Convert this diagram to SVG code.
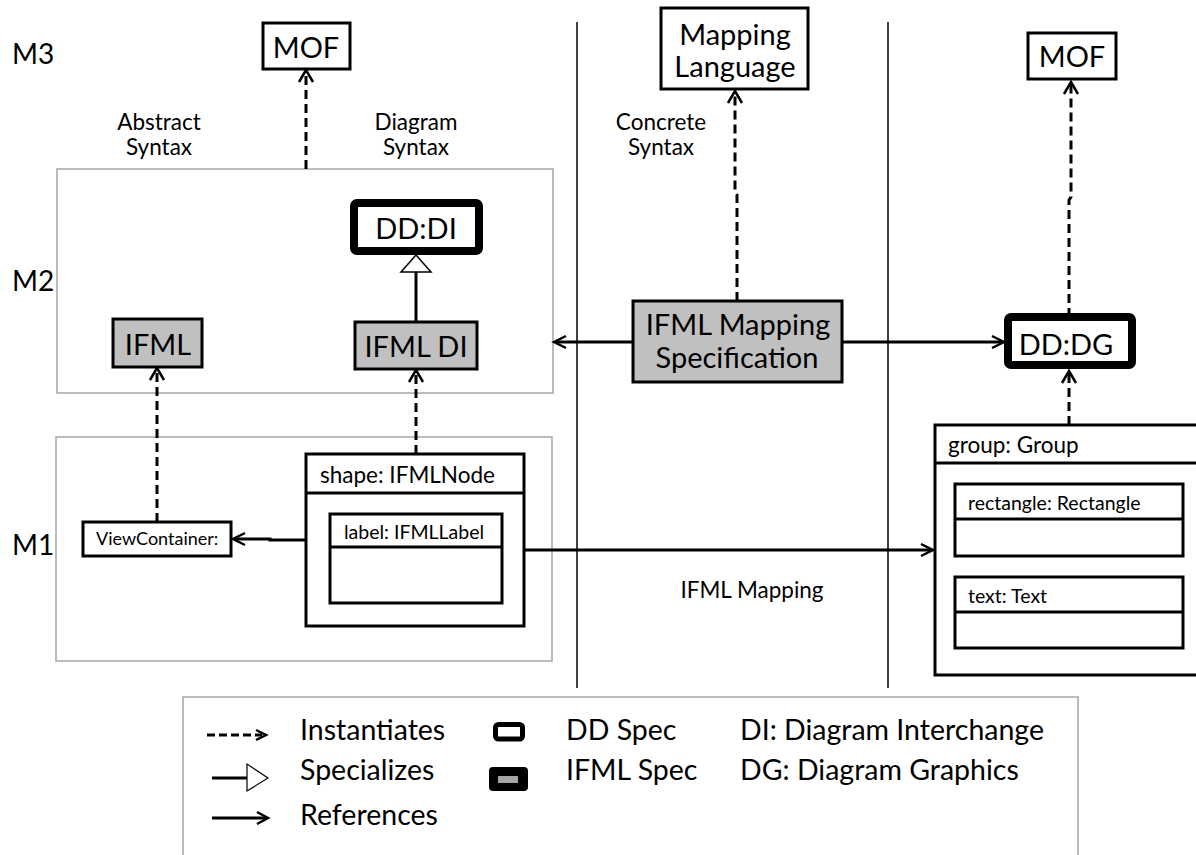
<svg xmlns="http://www.w3.org/2000/svg" width="1196" height="855" viewBox="0 0 1196 855">
<defs>
<style>
text{font-family:Lato,"Open Sans","Liberation Sans",sans-serif;fill:#000}
.lvl{font-size:28px}
.big{font-size:29px}
.syn{font-size:22.5px}
.hdr{font-size:22.5px}
.sm{font-size:19.5px}
.leg{font-size:28.5px}
.mid{text-anchor:middle}
.area{fill:#fff;stroke:#a6a6a6;stroke-width:1.5}
.box{fill:#fff;stroke:#000;stroke-width:3}
.ifml{fill:#c0c0c0;stroke:#000;stroke-width:3}
.dd{fill:#fff;stroke:#000;stroke-width:8}
.sep{stroke:#000;stroke-width:1.5;fill:none}
.dash{stroke:#000;stroke-width:3;fill:none;stroke-dasharray:9 5}
.ref{stroke:#000;stroke-width:3;fill:none}
.head{stroke:#000;stroke-width:2.5;fill:none}
</style>
</defs>
<rect width="1196" height="855" fill="#fff"/>

<g id="separators">
<line class="sep" x1="577" y1="22" x2="577" y2="688"/>
<line class="sep" x1="888" y1="22" x2="888" y2="688"/>
</g>

<g id="level-labels">
<text class="lvl" x="12" y="64">M3</text>
<text class="lvl" x="12" y="291">M2</text>
<text class="lvl" x="12" y="555">M1</text>
</g>

<g id="column-labels">
<text class="syn mid" x="159" y="130">Abstract</text>
<text class="syn mid" x="159" y="155">Syntax</text>
<text class="syn mid" x="416" y="130">Diagram</text>
<text class="syn mid" x="416" y="155">Syntax</text>
<text class="syn mid" x="661" y="130">Concrete</text>
<text class="syn mid" x="661" y="155">Syntax</text>
</g>

<g id="m2-area"><rect class="area" x="57" y="169" width="496" height="224"/></g>
<g id="m1-area"><rect class="area" x="56" y="437" width="496" height="224"/></g>

<g id="mof-left">
<rect class="box" x="263" y="23" width="87" height="46"/>
<text class="big mid" x="306" y="58">MOF</text>
</g>

<g id="mapping-language">
<rect class="box" x="661" y="8" width="147" height="81"/>
<text class="big mid" x="735" y="45">Mapping</text>
<text class="big mid" x="735" y="77">Language</text>
</g>

<g id="mof-right">
<rect class="box" x="1028" y="33" width="88" height="46"/>
<text class="big mid" x="1072" y="67">MOF</text>
</g>

<g id="dd-di">
<rect class="dd" x="354" y="203" width="125" height="48" rx="3"/>
<text class="big mid" x="416" y="239">DD:DI</text>
</g>

<g id="ifml">
<rect class="ifml" x="113" y="319" width="89" height="48"/>
<text class="big mid" x="158" y="355">IFML</text>
</g>

<g id="ifml-di">
<rect class="ifml" x="355" y="322" width="122" height="47"/>
<text class="big mid" x="416" y="357">IFML DI</text>
</g>

<g id="ifml-mapping-spec">
<rect class="ifml" x="633" y="301" width="209" height="81"/>
<text class="big mid" x="738" y="335">IFML Mapping</text>
<text class="big mid" x="737" y="368">Specification</text>
</g>

<g id="dd-dg">
<rect class="dd" x="1008" y="317" width="124" height="48" rx="3"/>
<text class="big mid" x="1066" y="355">DD:DG</text>
</g>

<g id="view-container">
<rect class="box" x="83" y="522" width="148" height="34"/>
<text style="font-size:18px" x="96" y="545">ViewContainer:</text>
</g>

<g id="shape-ifmlnode">
<rect class="box" x="306" y="454" width="218" height="172"/>
<line class="ref" x1="306" y1="493" x2="524" y2="493"/>
<text class="hdr" x="320" y="483">shape: IFMLNode</text>
</g>

<g id="label-ifmllabel">
<rect class="box" x="330" y="514" width="172" height="89"/>
<line class="ref" x1="330" y1="547" x2="502" y2="547"/>
<text class="sm" x="344" y="539">label: IFMLLabel</text>
</g>

<g id="group">
<rect class="box" x="935" y="425" width="300" height="250"/>
<line class="ref" x1="935" y1="463" x2="1200" y2="463"/>
<text class="hdr" x="948" y="453">group: Group</text>
</g>

<g id="rectangle">
<rect class="box" x="955" y="484" width="228" height="72"/>
<line class="ref" x1="955" y1="519" x2="1183" y2="519"/>
<text class="sm" x="968" y="510">rectangle: Rectangle</text>
</g>

<g id="text-node">
<rect class="box" x="955" y="577" width="228" height="71"/>
<line class="ref" x1="955" y1="612" x2="1183" y2="612"/>
<text class="sm" x="968" y="603">text: Text</text>
</g>

<g id="connectors">
<path class="dash" d="M306,169 V71"/>
<path class="head" d="M299,82 L306,70 L313,82"/>
<path class="dash" d="M737,301 V195 L735,192 V92"/>
<path class="head" d="M728,103 L735,91 L742,103"/>
<path class="dash" d="M1069,317 V200 L1071,197 V82"/>
<path class="head" d="M1064,94 L1071,82 L1078,94"/>
<path class="dash" d="M157,522 V369"/>
<path class="head" d="M150,380 L157,368 L164,380"/>
<path class="dash" d="M416,454 V371"/>
<path class="head" d="M409,382 L416,370 L423,382"/>
<path class="dash" d="M1069,425 V372"/>
<path class="head" d="M1062,383 L1069,371 L1076,383"/>
<path class="ref" d="M416,322 V272"/>
<polygon points="416,255 401,272 431,272" fill="#fff" stroke="#000" stroke-width="1.5"/>
<path class="ref" d="M633,342 H556"/>
<path class="head" d="M566,336 L554,342 L566,348"/>
<path class="ref" d="M842,342 H1003"/>
<path class="head" d="M992,336 L1004,342 L992,348"/>
<path class="ref" d="M306,540 H270 V539 H234"/>
<path class="head" d="M245,533 L233,539 L245,545"/>
<path class="ref" d="M524,550 H932"/>
<path class="head" d="M921,544 L933,550 L921,556"/>
</g>

<text class="syn mid" x="752" y="598">IFML Mapping</text>

<g id="legend">
<rect class="area" x="183" y="697" width="895" height="170"/>
<path class="dash" d="M207,735 H262" style="stroke-dasharray:8 4"/>
<path class="head" d="M256,730 L266,735 L256,740"/>
<path class="ref" d="M212,778 H247"/>
<polygon points="247,764 247,791 268,778" fill="#fff" stroke="#000" stroke-width="1.2"/>
<path class="ref" d="M212,818 H267"/>
<path class="head" d="M257,812 L268,818 L257,824"/>
<text class="leg" x="300" y="740">Instantiates</text>
<text class="leg" x="300" y="780">Specializes</text>
<text class="leg" x="300" y="825">References</text>
<rect x="495.5" y="724.5" width="27" height="14.5" rx="3" fill="#fff" stroke="#000" stroke-width="5"/>
<rect x="489" y="767" width="39" height="24" rx="4" fill="#000"/>
<rect x="498" y="776" width="20" height="7" fill="#a6a6a6"/>
<text class="leg" x="566" y="740">DD Spec</text>
<text class="leg" x="566" y="780">IFML Spec</text>
<text class="leg" x="740" y="740">DI: Diagram Interchange</text>
<text class="leg" x="740" y="780">DG: Diagram Graphics</text>
</g>
</svg>
